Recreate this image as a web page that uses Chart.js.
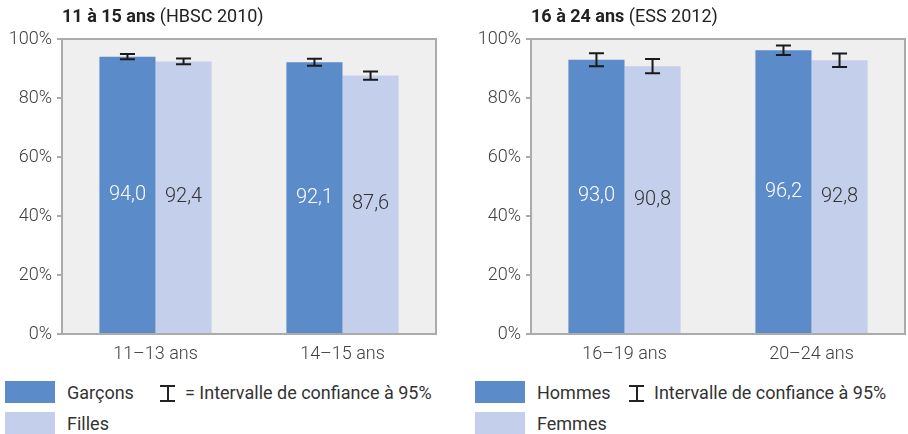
<!DOCTYPE html>
<html>
<head>
<meta charset="utf-8">
<script src="https://cdn.jsdelivr.net/npm/chart.js@4/dist/chart.umd.min.js"></script>
<style>
  body { margin: 0; background: #fff; font-family: Roboto, sans-serif; color: #404040; }
  #wrap { position: relative; width: 908px; height: 434px; overflow: hidden; }
  canvas { position: absolute; top: 0; }
  .title { position: absolute; top: 5px; font-size: 18px; color: #222; white-space: nowrap; font-weight: 400; }
  .title b { font-weight: 700; }
  .sw { position: absolute; width: 50px; height: 22px; }
  .lt { position: absolute; font-size: 18px; line-height: 22px; white-space: nowrap; color: #333; font-weight: 400; }
  .ibar { position: absolute; width: 15px; height: 17px; }
  .ibar:before, .ibar:after { content: ""; position: absolute; left: 0; width: 15px; height: 2px; background: #222; }
  .ibar:before { top: 0; }
  .ibar:after { bottom: 0; }
  .ibar span { position: absolute; left: 6.5px; top: 0; width: 2px; height: 17px; background: #222; }
</style>
</head>
<body>
<div id="wrap">
  <canvas id="chartA" width="454" height="370" style="left:0"></canvas>
  <canvas id="chartB" width="439" height="370" style="left:469px"></canvas>

  <div class="title" style="left:62px"><b>11 à 15 ans</b> (HBSC 2010)</div>
  <div class="title" style="left:531px"><b>16 à 24 ans</b> (ESS 2012)</div>

  <div class="sw" style="left:5px;top:381px;background:#5b8bc8"></div>
  <div class="lt" style="left:67px;top:382px">Garçons</div>
  <div class="ibar" style="left:160px;top:385px"><span></span></div>
  <div class="lt" style="left:185px;top:382px">= Intervalle de confiance à 95%</div>
  <div class="sw" style="left:5px;top:412px;background:#c4cfec"></div>
  <div class="lt" style="left:67px;top:413px">Filles</div>

  <div class="sw" style="left:475px;top:381px;background:#5b8bc8"></div>
  <div class="lt" style="left:537px;top:382px">Hommes</div>
  <div class="ibar" style="left:629px;top:385px"><span></span></div>
  <div class="lt" style="left:654px;top:382px">Intervalle de confiance à 95%</div>
  <div class="sw" style="left:475px;top:412px;background:#c4cfec"></div>
  <div class="lt" style="left:537px;top:413px">Femmes</div>
</div>

<script>
// 11 à 15 ans (HBSC 2010)
const agesA = ['11\u201313 ans', '14\u201315 ans'];
const garcons = [94.0, 92.1];
const garconsLow = [93.1, 90.9];
const garconsHigh = [94.9, 93.3];
const filles = [92.4, 87.6];
const fillesLow = [91.4, 86.2];
const fillesHigh = [93.4, 89.0];

// 16 à 24 ans (ESS 2012)
const agesB = ['16\u201319 ans', '20\u201324 ans'];
const hommes = [93.0, 96.2];
const hommesLow = [90.8, 94.6];
const hommesHigh = [95.2, 97.8];
const femmes = [90.8, 92.8];
const femmesLow = [88.4, 90.5];
const femmesHigh = [93.2, 95.1];

const yTicks = [0, 20, 40, 60, 80, 100];

const DARK = '#5b8bc8';
const LIGHT = '#c4cfec';

const framePlugin = {
  id: 'frame',
  beforeDatasetsDraw(chart) {
    const a = chart.chartArea, ctx = chart.ctx;
    ctx.save();
    ctx.fillStyle = '#efefef';
    ctx.fillRect(a.left, a.top, a.right - a.left, a.bottom - a.top);
    ctx.restore();
  },
  afterDatasetsDraw(chart, args, opts) {
    const a = chart.chartArea, ctx = chart.ctx;
    const y = chart.scales.y;
    ctx.save();
    ctx.strokeStyle = '#ababab';
    ctx.lineWidth = 2;
    ctx.strokeRect(a.left, a.top, a.right - a.left, a.bottom - a.top);

    // value labels in the middle of each bar
    ctx.font = '300 20px Roboto';
    ctx.textAlign = 'center';
    ctx.textBaseline = 'middle';
    chart.data.datasets.forEach((ds, di) => {
      chart.getDatasetMeta(di).data.forEach((bar, i) => {
        ctx.fillStyle = di === 0 ? '#ffffff' : '#333333';
        ctx.fillText(ds.data[i].toFixed(1).replace('.', ','), bar.x, (bar.y + bar.base) / 2);
      });
    });

    // error bars
    ctx.strokeStyle = '#1a1a1a';
    ctx.lineWidth = 2;
    opts.errors.forEach((err, di) => {
      chart.getDatasetMeta(di).data.forEach((bar, i) => {
        const yl = y.getPixelForValue(err.low[i]);
        const yh = y.getPixelForValue(err.high[i]);
        ctx.beginPath();
        ctx.moveTo(bar.x, yl); ctx.lineTo(bar.x, yh);
        ctx.moveTo(bar.x - 7.5, yl); ctx.lineTo(bar.x + 7.5, yl);
        ctx.moveTo(bar.x - 7.5, yh); ctx.lineTo(bar.x + 7.5, yh);
        ctx.stroke();
      });
    });
    ctx.restore();
  }
};

function makeChart(id, labels, s1, s2, errors, padRight) {
  return new Chart(document.getElementById(id), {
    type: 'bar',
    data: {
      labels: labels,
      datasets: [
        { data: s1, backgroundColor: DARK, categoryPercentage: 0.6, barPercentage: 1.0 },
        { data: s2, backgroundColor: LIGHT, categoryPercentage: 0.6, barPercentage: 1.0 }
      ]
    },
    options: {
      responsive: false,
      animation: false,
      layout: { padding: { top: 39, right: padRight, left: 0, bottom: 0 } },
      plugins: {
        legend: { display: false },
        tooltip: { enabled: false },
        frame: { errors: errors }
      },
      scales: {
        x: {
          grid: { display: false, drawTicks: false },
          border: { display: false },
          ticks: { color: '#404040', font: { family: 'Roboto', size: 18, weight: '300' }, padding: 10 },
          afterFit(scale) { scale.height = 36; }
        },
        y: {
          min: 0, max: 100,
          afterBuildTicks(scale) { scale.ticks = yTicks.map(v => ({ value: v })); },
          grid: { drawOnChartArea: false, tickLength: 5, color: '#ababab', lineWidth: 2 },
          border: { display: false },
          ticks: { color: '#404040', font: { family: 'Roboto', size: 18, weight: '300' }, padding: 5, callback: v => v + '%' },
          afterFit(scale) { scale.width = 62; }
        }
      }
    },
    plugins: [framePlugin]
  });
}

makeChart('chartA', agesA, garcons, filles,
  [{ low: garconsLow, high: garconsHigh }, { low: fillesLow, high: fillesHigh }], 18);
makeChart('chartB', agesB, hommes, femmes,
  [{ low: hommesLow, high: hommesHigh }, { low: femmesLow, high: femmesHigh }], 3);
</script>
</body>
</html>
